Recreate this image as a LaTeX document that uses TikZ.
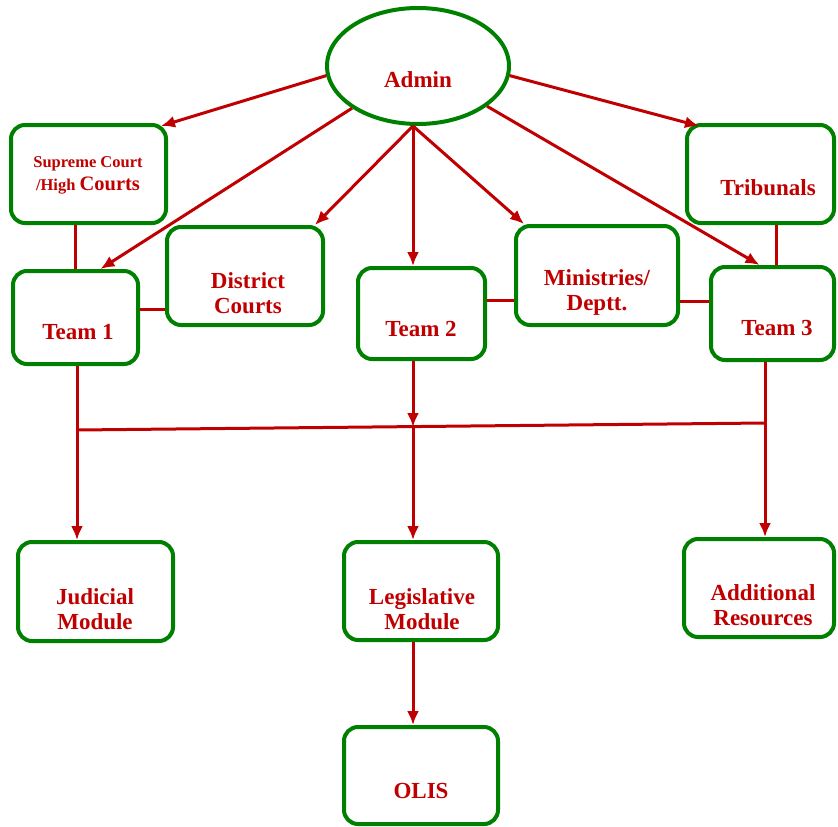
\documentclass[tikz,border=0pt]{standalone}
\usepackage{fontspec}
\setmainfont{Liberation Serif}
\usetikzlibrary{positioning, arrows.meta, shapes.geometric}
\definecolor{boxgreen}{RGB}{0,128,0}
\definecolor{linkred}{RGB}{192,0,0}

\begin{document}
\begin{tikzpicture}[x=1pt, y=-1pt,
        box/.style={draw=boxgreen, line width=4pt, rounded corners=14pt, fill=white},
        txt/.style={text=linkred, font=\bfseries\fontsize{23}{25}\selectfont, align=center, inner sep=0pt},
        link/.style={color=linkred, line width=3pt},
        >={Latex[length=14pt,width=12pt]}]
        \useasboundingbox (0,0) rectangle (838,827);
        % boxes
        \node[ellipse, draw=boxgreen, line width=4pt, minimum width=182pt, minimum height=116pt] (admin) at (418,66) {};
        \node[box, minimum width=155pt, minimum height=98pt] (sup) at (88.5,174) {};
        \node[box, minimum width=125pt, minimum height=93pt] (team1) at (75.5,317.5) {};
        \node[box, minimum width=156pt, minimum height=98pt] (dist) at (245,276) {};
        \node[box, minimum width=127pt, minimum height=91pt] (team2) at (421.5,313.5) {};
        \node[box, minimum width=162pt, minimum height=99pt] (min) at (597,275.5) {};
        \node[box, minimum width=147pt, minimum height=98pt] (trib) at (760.5,174) {};
        \node[box, minimum width=123pt, minimum height=93pt] (team3) at (772.5,313.5) {};
        \node[box, minimum width=155pt, minimum height=99pt] (jud) at (95.5,591.5) {};
        \node[box, minimum width=154pt, minimum height=98pt] (leg) at (421,591) {};
        \node[box, minimum width=150pt, minimum height=98pt] (add) at (759,588) {};
        \node[box, minimum width=154pt, minimum height=97pt] (olis) at (421,775.5) {};
        % texts
        \node[txt] (lbl_admin) at (418,80) {Admin};
        \node[txt, font=\bfseries\fontsize{16.5}{23}\selectfont] (lbl_sup) at (88,175) {Supreme Court\\/High {\fontsize{20.5}{23}\selectfont Courts}};
        \node[txt] (lbl_team1) at (78,332) {Team 1};
        \node[txt] (lbl_dist) at (248,293) {District\\Courts};
        \node[txt] (lbl_team2) at (421,329) {Team 2};
        \node[txt] (lbl_min) at (597,292) {Ministries/\\Deptt.};
        \node[txt] (lbl_trib) at (768,188) {Tribunals};
        \node[txt] (lbl_team3) at (777,328) {Team 3};
        \node[txt] (lbl_jud) at (95,609) {Judicial\\Module};
        \node[txt] (lbl_leg) at (422,609) {Legislative\\Module};
        \node[txt] (lbl_add) at (763,605) {Additional\\Resources};
        \node[txt] (lbl_olis) at (421,791) {OLIS};
        % bus
        \coordinate (adm_s) at ([xshift=-5pt]admin.south);
        \coordinate (bus_l) at (77,430);
        \coordinate (bus_m) at (413,427);
        \coordinate (bus_r) at (765,423);
        \path[link, ->]
                (admin.186) edge ([xshift=-7pt, yshift=-3pt]sup.north east)
                (admin) edge ([xshift=25pt]team1.north)
                (adm_s) edge ([xshift=-10pt]dist.north east)
                (adm_s) edge (adm_s |- team2.north)
                (adm_s) edge ([xshift=10pt]min.north west)
                (admin) edge ([xshift=-13pt]team3.north)
                (admin.354) edge ([xshift=14pt, yshift=-3pt]trib.north west)
                (team2.south -| bus_m) edge (bus_m)
                (bus_l) edge (bus_l |- jud.north)
                (bus_m) edge (bus_m |- leg.north)
                (bus_r) edge (bus_r |- add.north)
                (leg.south -| bus_m) edge (olis.north -| bus_m);
        \path[link]
                (team1.north |- sup.south) edge (team1.north)
                (team3.85 |- trib.south) edge (team3.85)
                (team1.7) edge (team1.7 -| dist.west)
                (team2.11) edge (team2.11 -| min.west)
                (team3.169 -| min.east) edge (team3.169)
                (team1.south -| bus_l) edge (bus_l)
                (team3.south -| bus_r) edge (bus_r)
                (bus_l) edge (bus_r);
\end{tikzpicture}
\end{document}
